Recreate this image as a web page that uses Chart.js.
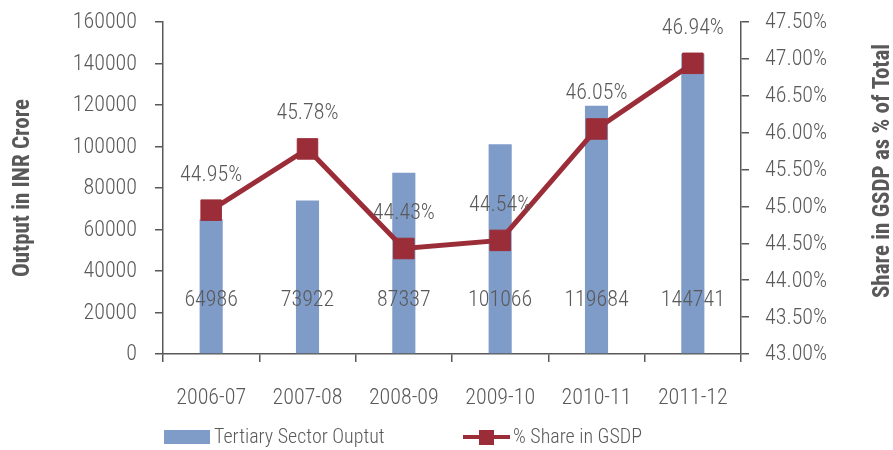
<!DOCTYPE html>
<html>
<head>
<meta charset="utf-8">
<script src="https://cdn.jsdelivr.net/npm/chart.js@4"></script>
<style>
  html, body { margin: 0; padding: 0; background: #fff; }
  #box { width: 893px; height: 450px; }
</style>
</head>
<body>
<div id="box"><canvas id="grafic"></canvas></div>
<script>
const ani = ['2006-07', '2007-08', '2008-09', '2009-10', '2010-11', '2011-12'];
const outputTertiar = [64986, 73922, 87337, 101066, 119684, 144741];
const cotaGSDP = [44.95, 45.78, 44.43, 44.54, 46.05, 46.94];
const numeSerii = ['Tertiary Sector Ouptut', '% Share in GSDP'];

const FONT = "'Roboto Condensed Light', 'Roboto Condensed', sans-serif";
const FONT_BOLD = "'Roboto Condensed', sans-serif";
const GRI = '#595959';
const ALBASTRU = '#7f9bc8';
const ROSU = '#9b2d38';

// etichete de valori + titlul din dreapta + legenda, desenate de mana
const pluginEtichete = {
	id: 'etichete',
	afterDatasetsDraw(chart) {
		const ctx = chart.ctx;
		ctx.save();
		ctx.fillStyle = GRI;
		ctx.font = '22px ' + FONT;
		ctx.textAlign = 'center';
		ctx.textBaseline = 'middle';
		const baza = chart.scales.y.getPixelForValue(0);
		// dataset 0 = linia, dataset 1 = barele
		chart.getDatasetMeta(1).data.forEach((bar, i) => {
			ctx.fillText(outputTertiar[i], bar.x, baza - 54);
		});
		chart.getDatasetMeta(0).data.forEach((pt, i) => {
			ctx.fillText(cotaGSDP[i].toFixed(2) + '%', pt.x, pt.y - 36);
		});
		ctx.restore();
	},
	afterDraw(chart) {
		const ctx = chart.ctx;
		ctx.save();
		// titlu axa dreapta, citit de jos in sus
		ctx.translate(883, 171);
		ctx.rotate(-Math.PI / 2);
		ctx.fillStyle = GRI;
		ctx.font = 'bold 23px ' + FONT_BOLD;
		ctx.textAlign = 'center';
		ctx.textBaseline = 'middle';
		ctx.fillText('Share in GSDP as % of Total', 0, 0);
		ctx.restore();

		// legenda
		ctx.save();
		ctx.font = '20px ' + FONT;
		ctx.fillStyle = ALBASTRU;
		ctx.fillRect(164, 430, 46, 14);
		ctx.fillStyle = GRI;
		ctx.textBaseline = 'middle';
		ctx.fillText(numeSerii[0], 214, 437);
		ctx.strokeStyle = ROSU;
		ctx.lineWidth = 4;
		ctx.beginPath();
		ctx.moveTo(463, 437);
		ctx.lineTo(510, 437);
		ctx.stroke();
		ctx.fillStyle = ROSU;
		ctx.fillRect(479, 430, 15, 15);
		ctx.fillStyle = GRI;
		ctx.fillText(numeSerii[1], 513, 437);
		ctx.restore();
	}
};

// axele verticale nu mai cer spatiu pentru eticheta de sus
function faraPadding(scale) {
	scale.paddingTop = 0;
	scale.paddingBottom = 0;
}

new Chart(document.getElementById('grafic'), {
	type: 'bar',
	data: {
		labels: ani,
		datasets: [
			{
				type: 'line',
				label: numeSerii[1],
				data: cotaGSDP,
				yAxisID: 'y1',
				borderColor: ROSU,
				borderWidth: 5,
				backgroundColor: ROSU,
				pointStyle: 'rect',
				pointRadius: 14.5,
				pointBorderWidth: 1,
				pointBackgroundColor: ROSU,
				pointBorderColor: ROSU,
				order: 0
			},
			{
				label: numeSerii[0],
				data: outputTertiar,
				yAxisID: 'y',
				backgroundColor: ALBASTRU,
				barPercentage: 0.24,
				categoryPercentage: 1,
				order: 1
			}
		]
	},
	options: {
		responsive: true,
		maintainAspectRatio: false,
		animation: false,
		layout: { padding: { top: 22, right: 0, bottom: 0, left: 0 } },
		plugins: {
			legend: { display: false },
			tooltip: { enabled: false }
		},
		scales: {
			x: {
				grid: { drawOnChartArea: false, tickLength: 8, color: GRI, lineWidth: 1.5, offset: true },
				border: { color: GRI, width: 1.5 },
				ticks: { color: GRI, font: { family: FONT, size: 22 }, padding: 22, maxRotation: 0 },
				afterFit(scale) { scale.height = 96; }
			},
			y: {
				position: 'left',
				min: 0,
				max: 160000,
				grid: { drawOnChartArea: false, tickLength: 8, color: GRI, lineWidth: 1.5 },
				border: { color: GRI, width: 1.5 },
				ticks: { stepSize: 20000, color: GRI, font: { family: FONT, size: 22 }, padding: 18, callback: v => String(v) },
				title: {
					display: true,
					text: 'Output in INR Crore',
					color: GRI,
					font: { family: FONT_BOLD, size: 23, weight: 'bold' },
					padding: { top: 9, bottom: 0 }
				},
				afterFit(scale) { scale.width = 163; faraPadding(scale); }
			},
			y1: {
				position: 'right',
				min: 43,
				max: 47.5,
				grid: { drawOnChartArea: false, tickLength: 8, color: GRI, lineWidth: 1.5 },
				border: { color: GRI, width: 1.5 },
				ticks: {
					stepSize: 0.5,
					color: GRI,
					font: { family: FONT, size: 22 },
					padding: 16,
					callback: v => v.toFixed(2) + '%'
				},
				afterFit(scale) { scale.width = 152; faraPadding(scale); }
			}
		}
	},
	plugins: [pluginEtichete]
});
</script>
</body>
</html>
